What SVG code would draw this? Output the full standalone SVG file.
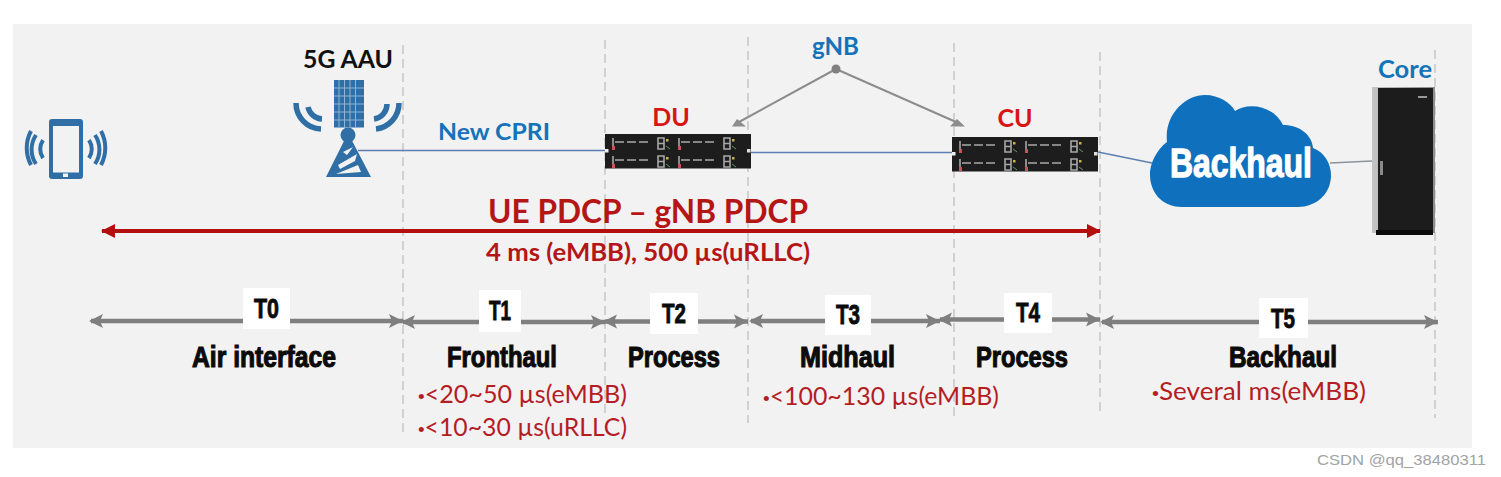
<svg xmlns="http://www.w3.org/2000/svg" width="1501" height="477" viewBox="0 0 1501 477">
<style>
.dash{stroke:#b0b0b0;stroke-width:1;stroke-dasharray:9 5;fill:none}
.link{stroke:#5b7fb0;stroke-width:1.3;fill:none}
.link2{stroke:#8a939c;stroke-width:1.5;fill:none}
.gn{stroke:#8c8c8c;stroke-width:2;fill:none}
.span{stroke:#7f7f7f;stroke-width:4.500;fill:none;marker-start:url(#gs);marker-end:url(#ge)}
.ue{stroke:#b30f0f;stroke-width:4;fill:none;marker-start:url(#rs);marker-end:url(#re)}
.tb{fill:#fff}
.imp{font-family:"Liberation Sans",sans-serif;font-weight:700;fill:#0b0b0b;stroke:#0b0b0b;stroke-width:1.100}
.lab{font-size:29px}
.t{font-size:28px;stroke-width:.9;text-anchor:start}
.cal{font-family:Lato,"Liberation Sans",sans-serif}
.b{font-weight:700}
.blue{fill:#1573ba}
.red{fill:#d81414}
.dred{fill:#b51515}
.note{font-size:25px;fill:#b51d25}
.bu{font-family:"Liberation Sans",sans-serif;font-size:19px}
.ic{fill:#2f6fa6}
.arc{fill:none;stroke:#2f6fa6;stroke-linecap:butt}
.bay{stroke:#a8a8a8;stroke-width:1.600;fill:none}
</style>
<defs>
<marker id="gs" markerUnits="userSpaceOnUse" markerWidth="16" markerHeight="16" refX="2" refY="8" orient="auto"><path d="M0 8 14 1 11 8 14 15Z" fill="#7f7f7f"/></marker>
<marker id="ge" markerUnits="userSpaceOnUse" markerWidth="16" markerHeight="16" refX="14" refY="8" orient="auto"><path d="M14 8 0 1 3 8 0 15Z" fill="#7f7f7f"/></marker>
<marker id="rs" markerUnits="userSpaceOnUse" markerWidth="16" markerHeight="16" refX="1" refY="8" orient="auto"><path d="M0 8 14 1V15Z" fill="#b30f0f"/></marker>
<marker id="re" markerUnits="userSpaceOnUse" markerWidth="16" markerHeight="16" refX="13" refY="8" orient="auto"><path d="M14 8 0 1V15Z" fill="#b30f0f"/></marker>
<g id="bay"><path class="bay" d="M1 3V14M3 7H12M15 7H24M27 7H36M46 3H52V14H46ZM46 8.500H52"/><rect x="0" y="11" width="3" height="4" fill="#c9535a"/><rect x="54" y="4" width="2.500" height="2.500" fill="#c9b24a"/><path d="M54 11l4 3" stroke="#5d9a5d" stroke-width="1" fill="none"/></g>
<g id="rack"><rect width="146" height="34.500" fill="#1d1d1d"/><use href="#bay" x="7" y="1"/><use href="#bay" x="73" y="1"/><use href="#bay" x="7" y="19"/><use href="#bay" x="73" y="19"/><rect x="0" y="15" width="3.500" height="3.500" fill="#eee"/><rect x="142" y="15" width="3.500" height="3.500" fill="#ddd"/></g>
<linearGradient id="side" x1="0" x2="1" y1="0" y2="0"><stop offset="0" stop-color="#c4c4c4"/><stop offset="1" stop-color="#8d8d8d"/></linearGradient>
</defs>

<rect id="panel" x="13" y="24" width="1459" height="424" fill="#f2f2f2"/>

<g id="boundaries">
<path class="dash" d="M403 45V432M605 40V417M748 37V423M954 43V420M1100 52V413M1435 50V418"/>
</g>

<g id="connectors">
<path class="link" d="M358 150.500H605"/>
<path class="link" d="M750 152.500H952"/>
<path class="link" d="M1098 152 1152 163"/>
<path class="link2" d="M1330 163 1372 161"/>
<path class="gn" d="M836 69 739 122"/>
<path class="gn" d="M836 69 956 122"/>
<path d="M737 119 746 126.500H732Z" fill="#8c8c8c"/>
<path d="M957 119 965 126.500H950Z" fill="#8c8c8c"/>
<path class="ue" d="M102 231H1100"/>
<path class="span" d="M91 321H403"/>
<path class="span" d="M403 322H605"/>
<path class="span" d="M605 321.500H748"/>
<path class="span" d="M751 321H940"/>
<path class="span" d="M940 319.500H1100"/>
<path class="span" d="M1102 322H1438"/>
</g>

<g id="ue-phone">
<rect class="ic" x="49" y="119" width="34" height="60" rx="3"/>
<rect x="53" y="126" width="26" height="46.500" fill="#f2f2f2"/>
<rect x="63" y="173.500" width="5" height="3.500" fill="#f2f2f2"/>
<path class="arc" stroke-width="4" d="M43 140A16 16 0 0 0 43 158M36 135A26 26 0 0 0 36 164M31 131A36 36 0 0 0 31 165"/>
<path class="arc" stroke-width="4" d="M89 140A16 16 0 0 1 89 158M95 135A26 26 0 0 1 95 164M101 131A36 36 0 0 1 101 165"/>
</g>

<g id="aau">
<text class="cal b" x="303" y="68" font-size="25" fill="#111" textLength="90" lengthAdjust="spacingAndGlyphs">5G AAU</text>
<rect class="ic" x="334" y="80" width="30" height="47.500"/>
<path d="M339 80V127M344.500 80V127M350 80V127M355.500 80V127M334 88H364M334 96H364M334 104H364M334 112H364M334 120H364" stroke="#8fb3d2" stroke-width="1" fill="none"/>
<circle class="ic" cx="348" cy="135" r="7.500"/>
<path class="ic" d="M348 133 371 177H326Z"/>
<path d="M343 152 353 147 347 155ZM338 165 357 154 355 161 340 169ZM336 174 358 165 361 172Z" fill="#f2f2f2"/>
<path class="arc" stroke-width="5.500" d="M296 103A26 26 0 0 0 321 129M308 107A15 15 0 0 0 322 119"/>
<path class="arc" stroke-width="5.500" d="M399 103A26 26 0 0 1 376 129M387 104A15 15 0 0 1 374 119"/>
</g>

<text id="new-cpri" class="cal b blue" x="438" y="140" font-size="23" textLength="112" lengthAdjust="spacingAndGlyphs">New CPRI</text>

<g id="gnb">
<text class="cal b blue" x="812" y="55" font-size="25" textLength="47" lengthAdjust="spacingAndGlyphs">gNB</text>
<circle cx="836" cy="69" r="4.500" fill="#808080"/>
</g>

<g id="du">
<text class="cal b red" x="671" y="126" font-size="25" text-anchor="middle">DU</text>
<use href="#rack" x="605" y="134"/>
</g>

<g id="cu">
<text class="cal b red" x="1015" y="127" font-size="25" text-anchor="middle">CU</text>
<use href="#rack" x="952" y="137"/>
</g>

<g id="cloud">
<path fill="#0f70bd" d="M1182 207C1160 207 1150 190 1150 175C1150 160 1160 147 1167 142C1164 115 1185 95 1205 95C1219 95 1231 103 1235 111C1248 102 1273 105 1283 125C1300 125 1312 135 1313 148C1325 152 1331 165 1331 175C1331 195 1315 207 1298 207Z"/>
<text x="1170" y="177" font-family="'Liberation Sans',sans-serif" font-weight="700" font-size="41" fill="#fff" stroke="#fff" stroke-width="1.300" textLength="142" lengthAdjust="spacingAndGlyphs">Backhaul</text>
</g>

<g id="core">
<text class="cal b blue" x="1378" y="78" font-size="24" textLength="54" lengthAdjust="spacingAndGlyphs">Core</text>
<rect x="1372" y="87" width="63" height="146" fill="url(#side)"/>
<rect x="1378" y="88" width="55" height="143" fill="#1c1c1c"/>
<rect x="1376" y="230" width="57" height="5" fill="#0c0c0c"/>
<rect x="1380" y="161" width="3" height="14" fill="#8a8a8a"/>
<rect x="1418" y="96" width="9" height="2" fill="#999"/>
</g>

<g id="latency">
<text class="cal b dred" x="488" y="223" font-size="33" textLength="320" lengthAdjust="spacingAndGlyphs">UE PDCP – gNB PDCP</text>
<text class="cal b dred" x="486" y="261" font-size="25" textLength="324" lengthAdjust="spacingAndGlyphs">4 ms (eMBB), 500 µs(uRLLC)</text>
</g>

<g id="t0"><rect class="tb" x="243" y="288" width="47" height="41"/><text class="imp t" x="254" y="318" textLength="25" lengthAdjust="spacingAndGlyphs">T0</text>
<text class="imp lab" x="192" y="367" textLength="144" lengthAdjust="spacingAndGlyphs">Air interface</text></g>

<g id="t1"><rect class="tb" x="479" y="290" width="42" height="42"/><text class="imp t" x="489" y="320" textLength="22" lengthAdjust="spacingAndGlyphs">T1</text>
<text class="imp lab" x="447" y="367" textLength="110" lengthAdjust="spacingAndGlyphs">Fronthaul</text>
<text class="cal note" x="418" y="403" textLength="209" lengthAdjust="spacingAndGlyphs"><tspan class="bu">•</tspan>&lt;20~50 µs(eMBB)</text>
<text class="cal note" x="418" y="436" textLength="209" lengthAdjust="spacingAndGlyphs"><tspan class="bu">•</tspan>&lt;10~30 µs(uRLLC)</text></g>

<g id="t2"><rect class="tb" x="650" y="293" width="48" height="41"/><text class="imp t" x="662" y="323" textLength="24" lengthAdjust="spacingAndGlyphs">T2</text>
<text class="imp lab" x="628" y="367" textLength="92" lengthAdjust="spacingAndGlyphs">Process</text></g>

<g id="t3"><rect class="tb" x="825" y="295" width="46" height="40"/><text class="imp t" x="836" y="324" textLength="24" lengthAdjust="spacingAndGlyphs">T3</text>
<text class="imp lab" x="800" y="367" textLength="95" lengthAdjust="spacingAndGlyphs">Midhaul</text>
<text class="cal note" x="763" y="405" textLength="236" lengthAdjust="spacingAndGlyphs"><tspan class="bu">•</tspan>&lt;100~130 µs(eMBB)</text></g>

<g id="t4"><rect class="tb" x="1004" y="293" width="48" height="40"/><text class="imp t" x="1016" y="322" textLength="24" lengthAdjust="spacingAndGlyphs">T4</text>
<text class="imp lab" x="976" y="367" textLength="92" lengthAdjust="spacingAndGlyphs">Process</text></g>

<g id="t5"><rect class="tb" x="1259" y="298" width="49" height="40"/><text class="imp t" x="1271" y="328" textLength="24" lengthAdjust="spacingAndGlyphs">T5</text>
<text class="imp lab" x="1229" y="367" textLength="108" lengthAdjust="spacingAndGlyphs">Backhaul</text>
<text class="cal note" x="1152" y="400" textLength="214" lengthAdjust="spacingAndGlyphs"><tspan class="bu">•</tspan>Several ms(eMBB)</text></g>

<text id="watermark" x="1317" y="465" font-family="'Liberation Sans',sans-serif" font-size="15.500" fill="#a3a3a3" textLength="169" lengthAdjust="spacingAndGlyphs">CSDN @qq_38480311</text>
</svg>
